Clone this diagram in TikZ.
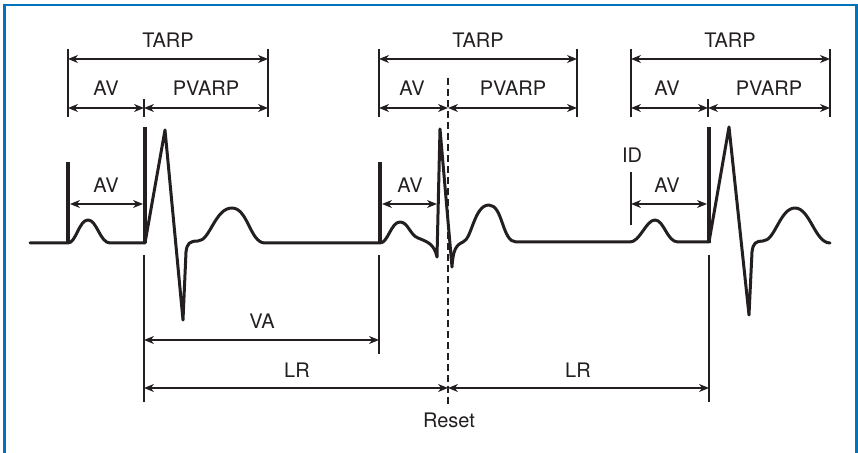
\documentclass[tikz,border=0pt]{standalone}
\usepackage{fontspec}
\setmainfont{TeX Gyre Heros}
\usepackage{xcolor}
\usetikzlibrary{arrows.meta}
\definecolor{frameblue}{RGB}{0,115,188}
\definecolor{ink}{RGB}{35,31,32}

\begin{document}
\begin{tikzpicture}[x=0.5pt, y=-0.5pt,
    dim/.style={line width=0.6pt, draw=ink, {Stealth[length=5pt,width=4pt,inset=1.6pt]}-{Stealth[length=5pt,width=4pt,inset=1.6pt]}},
    tick/.style={line width=0.6pt, draw=ink},
    reset/.style={line width=0.6pt, draw=ink, dash pattern=on 3.5pt off 2pt},
    trace/.style={line width=1.5pt, draw=ink, line join=round, line cap=round},
    spike/.style={line width=2pt, draw=ink},
    lbl/.style={anchor=base, font=\fontsize{10}{12}\selectfont, text=ink, inner sep=0pt}]

    \useasboundingbox (0,0) rectangle (858,453);
    \draw[frameblue, line width=1.3pt] (4.5,453) -- (4.5,5) -- (856.5,5) -- (856.5,453);

    % ECG trace
    \draw[trace] (30,243) -- (68,243)
        .. controls (76,243) and (79,220) .. (88,220)
        .. controls (97,220) and (100,243) .. (110,243) -- (145,243)
        -- (165,130) -- (183,320) -- (186,252)
        .. controls (187,243) and (190,241) .. (198,241)
        .. controls (210,241) and (215,208) .. (232,208)
        .. controls (248,208) and (250,243) .. (265,243) -- (380,243)
        .. controls (388,243) and (391,222) .. (400,222)
        .. controls (408,222) and (410,235) .. (418,238)
        .. controls (428,242) and (434,244) .. (437,257)
        -- (440,129) -- (452,267)
        .. controls (453,250) and (456,245) .. (463,242)
        .. controls (472,239) and (474,205) .. (489,205)
        .. controls (503,205) and (502,242) .. (516,242) -- (630,242)
        .. controls (640,242) and (646,220) .. (655,220)
        .. controls (664,220) and (667,242) .. (678,242) -- (709,242)
        -- (729,127) -- (749,315) -- (752,252)
        .. controls (753,243) and (756,241) .. (763,241)
        .. controls (775,241) and (780,208) .. (795,208)
        .. controls (810,208) and (815,243) .. (830,243);

    \coordinate (a1b) at (68,243);  \coordinate (a1t) at (68,162);
    \coordinate (v1b) at (145,243); \coordinate (v1t) at (145,127);
    \coordinate (a2b) at (380,243); \coordinate (a2t) at (380,162);
    \coordinate (v3b) at (709,243); \coordinate (v3t) at (709,127);
    \draw[spike] (a1b) -- (a1t);
    \draw[spike] (v1b) -- (v1t);
    \draw[spike] (a2b) -- (a2t);
    \draw[spike] (v3b) -- (v3t);

    % upper intervals
    \coordinate (t1a) at (68,49);  \coordinate (t1b) at (68,117);
    \coordinate (t1c) at (268,49); \coordinate (t1d) at (268,117);
    \coordinate (m1a) at (144,99); \coordinate (m1b) at (144,117);
    \coordinate (t2a) at (379,49); \coordinate (t2b) at (379,117);
    \coordinate (t2c) at (577,49); \coordinate (t2d) at (577,117);
    \coordinate (t3a) at (631,49); \coordinate (t3b) at (631,117);
    \coordinate (t3c) at (830,49); \coordinate (t3d) at (830,117);
    \coordinate (m3a) at (708,99); \coordinate (m3b) at (708,117);
    \foreach \p in {t1,t2,t3} {
        \draw[tick] (\p a) -- (\p b);
        \draw[tick] (\p c) -- (\p d);
    }
    \draw[tick] (m1a) -- (m1b);
    \draw[tick] (m3a) -- (m3b);

    \coordinate (tarp1l) at (68,59);  \coordinate (tarp1r) at (268,59);
    \coordinate (av1l) at (68,108);   \coordinate (av1m) at (144,108);  \coordinate (av1r) at (268,108);
    \coordinate (tarp2l) at (379,59); \coordinate (tarp2r) at (577,59);
    \coordinate (av2l) at (379,108);  \coordinate (av2m) at (448,108);  \coordinate (av2r) at (577,108);
    \coordinate (tarp3l) at (631,59); \coordinate (tarp3r) at (830,59);
    \coordinate (av3l) at (631,108);  \coordinate (av3m) at (708,108);  \coordinate (av3r) at (830,108);

    \draw[dim] (tarp1l) -- (tarp1r);
    \draw[dim] (av1l) -- (av1m);
    \draw[dim] (av1m) -- (av1r);
    \draw[dim] (tarp2l) -- (tarp2r);
    \draw[dim] (av2l) -- (av2m);
    \draw[dim] (av2m) -- (av2r);
    \draw[dim] (tarp3l) -- (tarp3r);
    \draw[dim] (av3l) -- (av3m);
    \draw[dim] (av3m) -- (av3r);

    \node[lbl] (tarp1) at (168,47.5) {TARP};
    \node[lbl] (avu1) at (106,96) {AV};
    \node[lbl] (pvarp1) at (206,96) {PVARP};
    \node[lbl] (tarp2) at (478,47.5) {TARP};
    \node[lbl] (avu2) at (412,96) {AV};
    \node[lbl] (pvarp2) at (513,96) {PVARP};
    \node[lbl] (tarp3) at (730,47.5) {TARP};
    \node[lbl] (avu3) at (667,96) {AV};
    \node[lbl] (pvarp3) at (769,96) {PVARP};

    % AV delays on the trace
    \coordinate (ava1) at (70,204);  \coordinate (avb1) at (143,204);
    \coordinate (ava2) at (382,204); \coordinate (avb2) at (437,204);
    \coordinate (ava3) at (631,204); \coordinate (avb3) at (707,204);
    \coordinate (idt) at (631,172);  \coordinate (idb) at (631,225);
    \draw[dim] (ava1) -- (avb1);
    \draw[dim] (ava2) -- (avb2);
    \draw[dim] (ava3) -- (avb3);
    \draw[tick] (idt) -- (idb);
    \node[lbl] (avd1) at (106,193) {AV};
    \node[lbl] (avd2) at (410,193) {AV};
    \node[lbl] (avd3) at (667,193) {AV};
    \node[lbl] (id) at (632,163) {ID};

    % lower intervals
    \coordinate (v1up) at (144,255); \coordinate (v1dn) at (144,402);
    \coordinate (a2up) at (379,255); \coordinate (a2dn) at (379,354);
    \coordinate (v3up) at (709,255); \coordinate (v3dn) at (709,402);
    \coordinate (rsup) at (448,78);  \coordinate (rsdn) at (448,407);
    \draw[tick] (v1up) -- (v1dn);
    \draw[tick] (a2up) -- (a2dn);
    \draw[tick] (v3up) -- (v3dn);
    \draw[reset] (rsup) -- (rsdn);

    \coordinate (val) at (144,340); \coordinate (var) at (379,340);
    \coordinate (lr1l) at (144,388); \coordinate (lrm) at (448,388); \coordinate (lr2r) at (709,388);
    \draw[dim] (val) -- (var);
    \draw[dim] (lr1l) -- (lrm);
    \draw[dim] (lrm) -- (lr2r);
    \node[lbl] (va) at (262,329) {VA};
    \node[lbl] (lr1) at (297,378) {LR};
    \node[lbl] (lr2) at (578,378) {LR};
    \node[lbl] (rst) at (449,428) {Reset};
\end{tikzpicture}
\end{document}
